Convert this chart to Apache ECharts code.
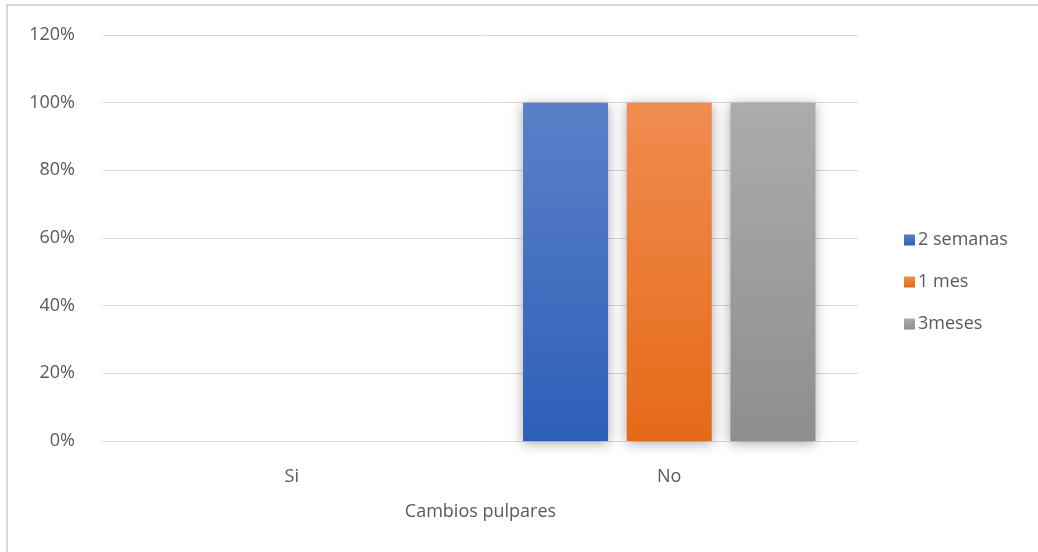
<!DOCTYPE html>
<html>
<head>
<meta charset="utf-8">
<script src="https://cdn.jsdelivr.net/npm/echarts@6/dist/echarts.min.js"></script>
<style>
  html, body { margin: 0; padding: 0; background: #fff; }
  #chart { width: 1038px; height: 552px; }
</style>
</head>
<body>
<div id="chart"></div>
<script>
// Categories and series values (fractions of 1 = 100%)
const categories = ['Si', 'No'];
const seriesNames = ['2 semanas', '1 mes', '3meses'];
const semanas2 = [0, 1];
const mes1 = [0, 1];
const meses3 = [0, 1];
const yTicks = [0, 0.2, 0.4, 0.6, 0.8, 1.0, 1.2];

const palette = [
  ['#5B80C9', '#2D5FB8'],
  ['#F18C51', '#E56A17'],
  ['#ACACAC', '#8E8E8E']
];

function grad(c) {
  return new echarts.graphic.LinearGradient(0, 0, 0, 1, [
    { offset: 0, color: c[0] },
    { offset: 1, color: c[1] }
  ]);
}

const values = [semanas2, mes1, meses3];
const font = '"Open Sans", "Noto Sans", sans-serif';

const chart = echarts.init(document.getElementById('chart'));
chart.setOption({
  animation: false,
  backgroundColor: '#fff',
  grid: { left: 103, right: 180, top: 35, bottom: 111, containLabel: false },
  legend: {
    orient: 'vertical',
    left: 899,
    top: 225,
    itemWidth: 11,
    itemHeight: 11,
    itemGap: 22,
    icon: 'rect',
    textStyle: { color: '#595959', fontSize: 18, lineHeight: 20, fontFamily: font, padding: [0, 0, 0, -2] },
    data: seriesNames
  },
  xAxis: {
    type: 'category',
    data: categories,
    name: 'Cambios pulpares',
    nameLocation: 'middle',
    nameGap: 62,
    nameTextStyle: { color: '#595959', fontSize: 18, fontFamily: font },
    axisLine: { lineStyle: { color: '#d9d9d9', width: 1 } },
    axisTick: { show: false },
    axisLabel: { color: '#595959', fontSize: 18, fontFamily: font, margin: 27 }
  },
  yAxis: {
    type: 'value',
    min: yTicks[0],
    max: yTicks[yTicks.length - 1],
    interval: 0.2,
    axisLine: { show: false },
    axisTick: { show: false },
    splitLine: { lineStyle: { color: '#d9d9d9', width: 1 } },
    axisLabel: {
      color: '#595959', fontSize: 18, fontFamily: font, margin: 28,
      formatter: v => Math.round(v * 100) + '%'
    }
  },
  series: seriesNames.map((name, i) => ({
    name,
    type: 'bar',
    data: values[i],
    barWidth: 85,
    barGap: '22%',
    itemStyle: {
      color: grad(palette[i]),
      shadowColor: 'rgba(0,0,0,0.35)',
      shadowBlur: 12,
      shadowOffsetY: 2
    }
  })),
  graphic: [{
    type: 'rect',
    shape: { x: 7, y: 5, width: 1040, height: 560 },
    style: { fill: 'none', stroke: '#d9d9d9', lineWidth: 2 },
    silent: true,
    z: -1
  }]
});
</script>
</body>
</html>
